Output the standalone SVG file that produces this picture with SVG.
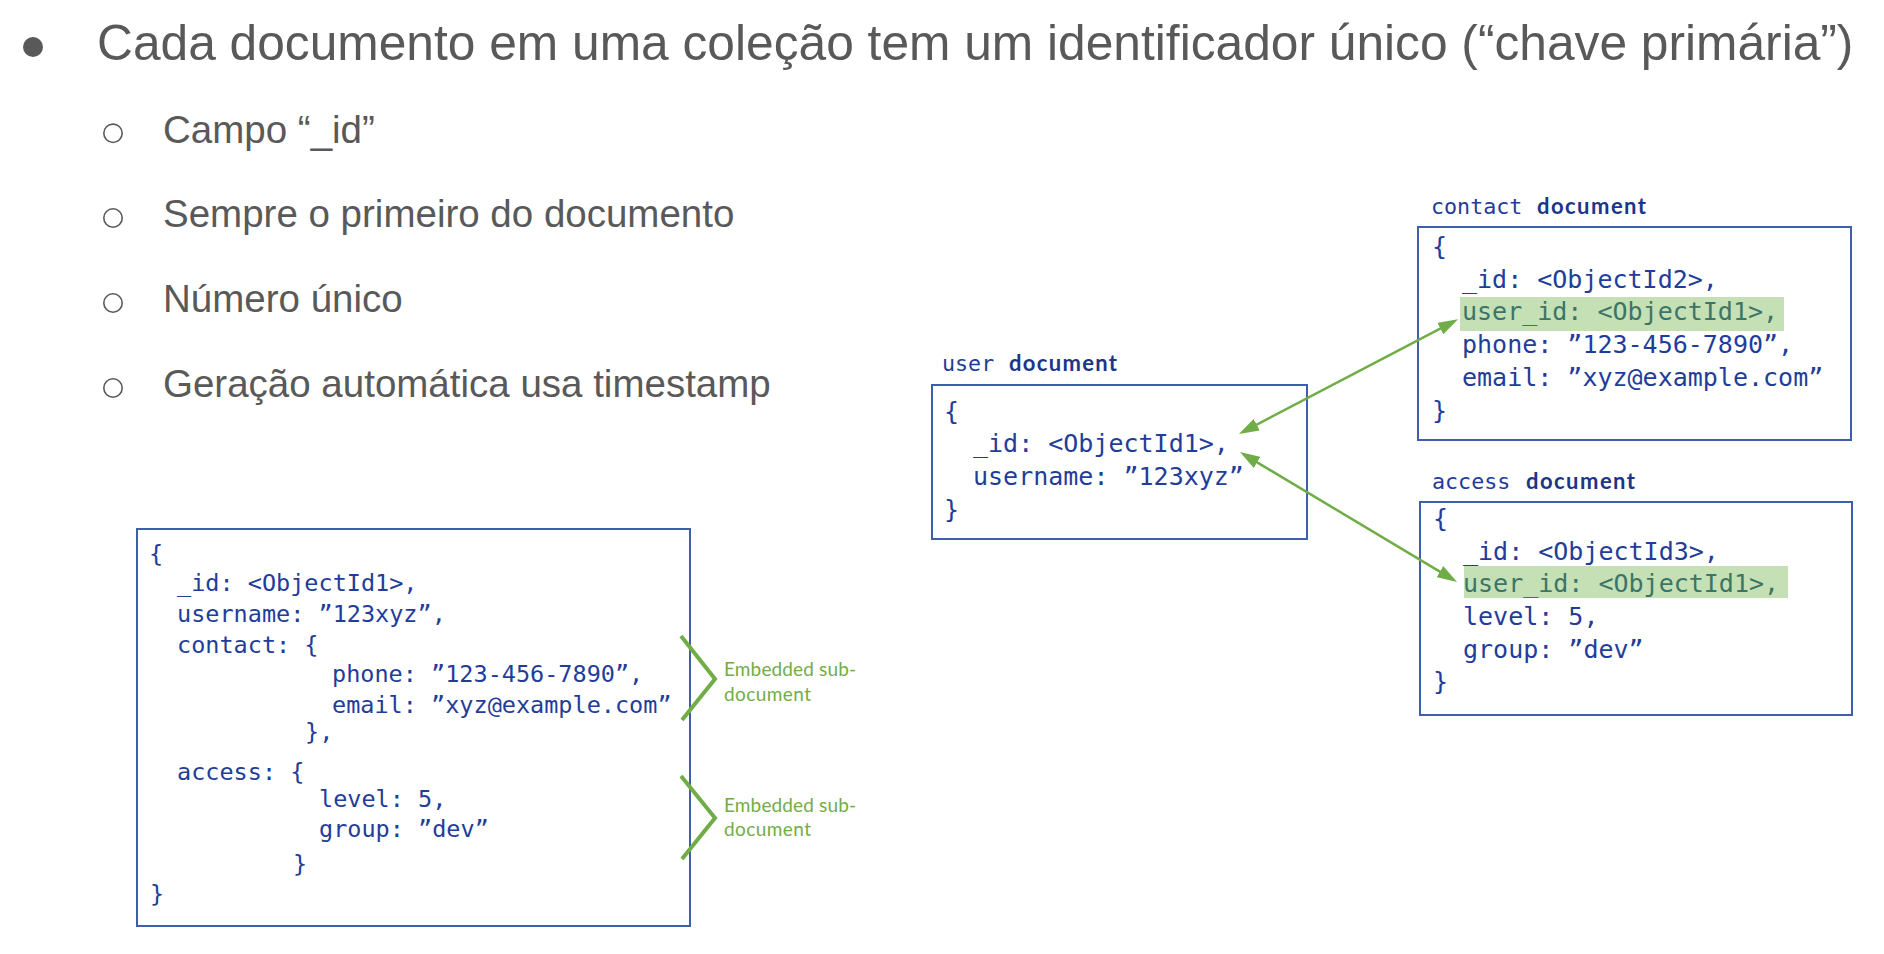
<svg xmlns="http://www.w3.org/2000/svg" width="1884" height="954" viewBox="0 0 1884 954">
  <style>
    .slide { font-family: "Liberation Sans", Arial, sans-serif; fill: #595959; }
    .h1 { font-size: 49.7px; }
    .h2 { font-size: 38.5px; }
    .box { fill: #ffffff; stroke: #3f5fac; stroke-width: 2; }
    .code { font-family: "DejaVu Sans Mono", "Liberation Mono", monospace; fill: #1f3d99; font-size: 25px; }
    .code-s { font-family: "DejaVu Sans Mono", "Liberation Mono", monospace; fill: #1f3d99; font-size: 23.5px; }
    .hl { fill: #c5e0b4; }
    .hltext { fill: #3b7568; }
    .lbl-mono { font-family: "DejaVu Sans Mono", "Liberation Mono", monospace; font-size: 21.7px; fill: #1f3d99; }
    .lbl-bold { font-family: Lato, "Open Sans", sans-serif; font-weight: bold; font-size: 22px; fill: #1b3688; }
    .green { font-family: Lato, "Open Sans", sans-serif; font-size: 19px; fill: #70ad47; }
    .bracket { fill: none; stroke: #70ad47; stroke-width: 4; }
    .conn { fill: none; stroke: #70ad47; stroke-width: 2.5; marker-start: url(#arr); marker-end: url(#arr); }
  </style>
  <defs>
    <marker id="arr" markerUnits="userSpaceOnUse" markerWidth="20" markerHeight="13" refX="16" refY="6.5" orient="auto-start-reverse">
      <path d="M0,0 L20,6.5 L0,13 z" fill="#70ad47"/>
    </marker>
  </defs>
  <rect width="1884" height="954" fill="#ffffff"/>

  <g id="title" class="slide">
    <circle cx="33" cy="47" r="10" fill="#595959"/>
    <text class="h1" x="97" y="60">Cada documento em uma coleção tem um identificador único (“chave primária”)</text>
  </g>

  <g id="subbullets" class="slide">
    <g fill="none" stroke="#595959" stroke-width="1.6">
      <circle cx="113" cy="133.3" r="9.2"/>
      <circle cx="113" cy="218" r="9.2"/>
      <circle cx="113" cy="303" r="9.2"/>
      <circle cx="113" cy="388" r="9.2"/>
    </g>
    <text class="h2" x="163" y="142.7">Campo “_id”</text>
    <text class="h2" x="163" y="227.4">Sempre o primeiro do documento</text>
    <text class="h2" x="163" y="312.1">Número único</text>
    <text class="h2" x="163" y="396.8">Geração automática usa timestamp</text>
  </g>

  <g id="embedded-doc">
    <rect class="box" x="137" y="529" width="553" height="397"/>
    <text class="code-s" x="149" y="562">{</text>
    <text class="code-s" x="177" y="591">_id: &lt;ObjectId1&gt;,</text>
    <text class="code-s" x="177" y="622">username: ”123xyz”,</text>
    <text class="code-s" x="177" y="653">contact: {</text>
    <text class="code-s" x="332" y="682">phone: ”123-456-7890”,</text>
    <text class="code-s" x="332" y="713">email: ”xyz@example.com”</text>
    <text class="code-s" x="305" y="740">},</text>
    <text class="code-s" x="177" y="780">access: {</text>
    <text class="code-s" x="319" y="807">level: 5,</text>
    <text class="code-s" x="319" y="837">group: ”dev”</text>
    <text class="code-s" x="293" y="872">}</text>
    <text class="code-s" x="150" y="902">}</text>
  </g>

  <g id="embedded-labels">
    <polyline class="bracket" points="681,636 715,679 682,720"/>
    <polyline class="bracket" points="681,776 715,818 682,859"/>
    <text class="green" x="724" y="676" textLength="132">Embedded sub-</text>
    <text class="green" x="724" y="701" textLength="87">document</text>
    <text class="green" x="724" y="812" textLength="132">Embedded sub-</text>
    <text class="green" x="724" y="836" textLength="87">document</text>
  </g>

  <g id="user-doc">
    <text class="lbl-mono" x="942" y="371">user</text>
    <text class="lbl-bold" x="1009" y="371" textLength="108">document</text>
    <rect class="box" x="932" y="385" width="375" height="154"/>
    <text class="code" x="944" y="420">{</text>
    <text class="code" x="973" y="452">_id: &lt;ObjectId1&gt;,</text>
    <text class="code" x="973" y="485">username: ”123xyz”</text>
    <text class="code" x="944" y="518">}</text>
  </g>

  <g id="contact-doc">
    <text class="lbl-mono" x="1431" y="214">contact</text>
    <text class="lbl-bold" x="1537" y="214" textLength="109">document</text>
    <rect class="box" x="1418" y="227" width="433" height="213"/>
    <rect class="hl" x="1460" y="297" width="324" height="34"/>
    <text class="code" x="1432" y="255">{</text>
    <text class="code" x="1462" y="288">_id: &lt;ObjectId2&gt;,</text>
    <text class="code hltext" x="1462" y="320">user_id: &lt;ObjectId1&gt;,</text>
    <text class="code" x="1462" y="353">phone: ”123-456-7890”,</text>
    <text class="code" x="1462" y="386">email: ”xyz@example.com”</text>
    <text class="code" x="1432" y="419">}</text>
  </g>

  <g id="access-doc">
    <text class="lbl-mono" x="1432" y="489">access</text>
    <text class="lbl-bold" x="1526" y="489" textLength="109">document</text>
    <rect class="box" x="1420" y="502" width="432" height="213"/>
    <rect class="hl" x="1464" y="566" width="324" height="32"/>
    <text class="code" x="1433" y="527">{</text>
    <text class="code" x="1463" y="560">_id: &lt;ObjectId3&gt;,</text>
    <text class="code hltext" x="1463" y="592">user_id: &lt;ObjectId1&gt;,</text>
    <text class="code" x="1463" y="625">level: 5,</text>
    <text class="code" x="1463" y="658">group: ”dev”</text>
    <text class="code" x="1433" y="690">}</text>
  </g>

  <g id="connectors">
    <line class="conn" x1="1242.5" y1="432.1" x2="1454.5" y2="321.1"/>
    <line class="conn" x1="1243.4" y1="454.1" x2="1453.6" y2="579.9"/>
  </g>
</svg>
